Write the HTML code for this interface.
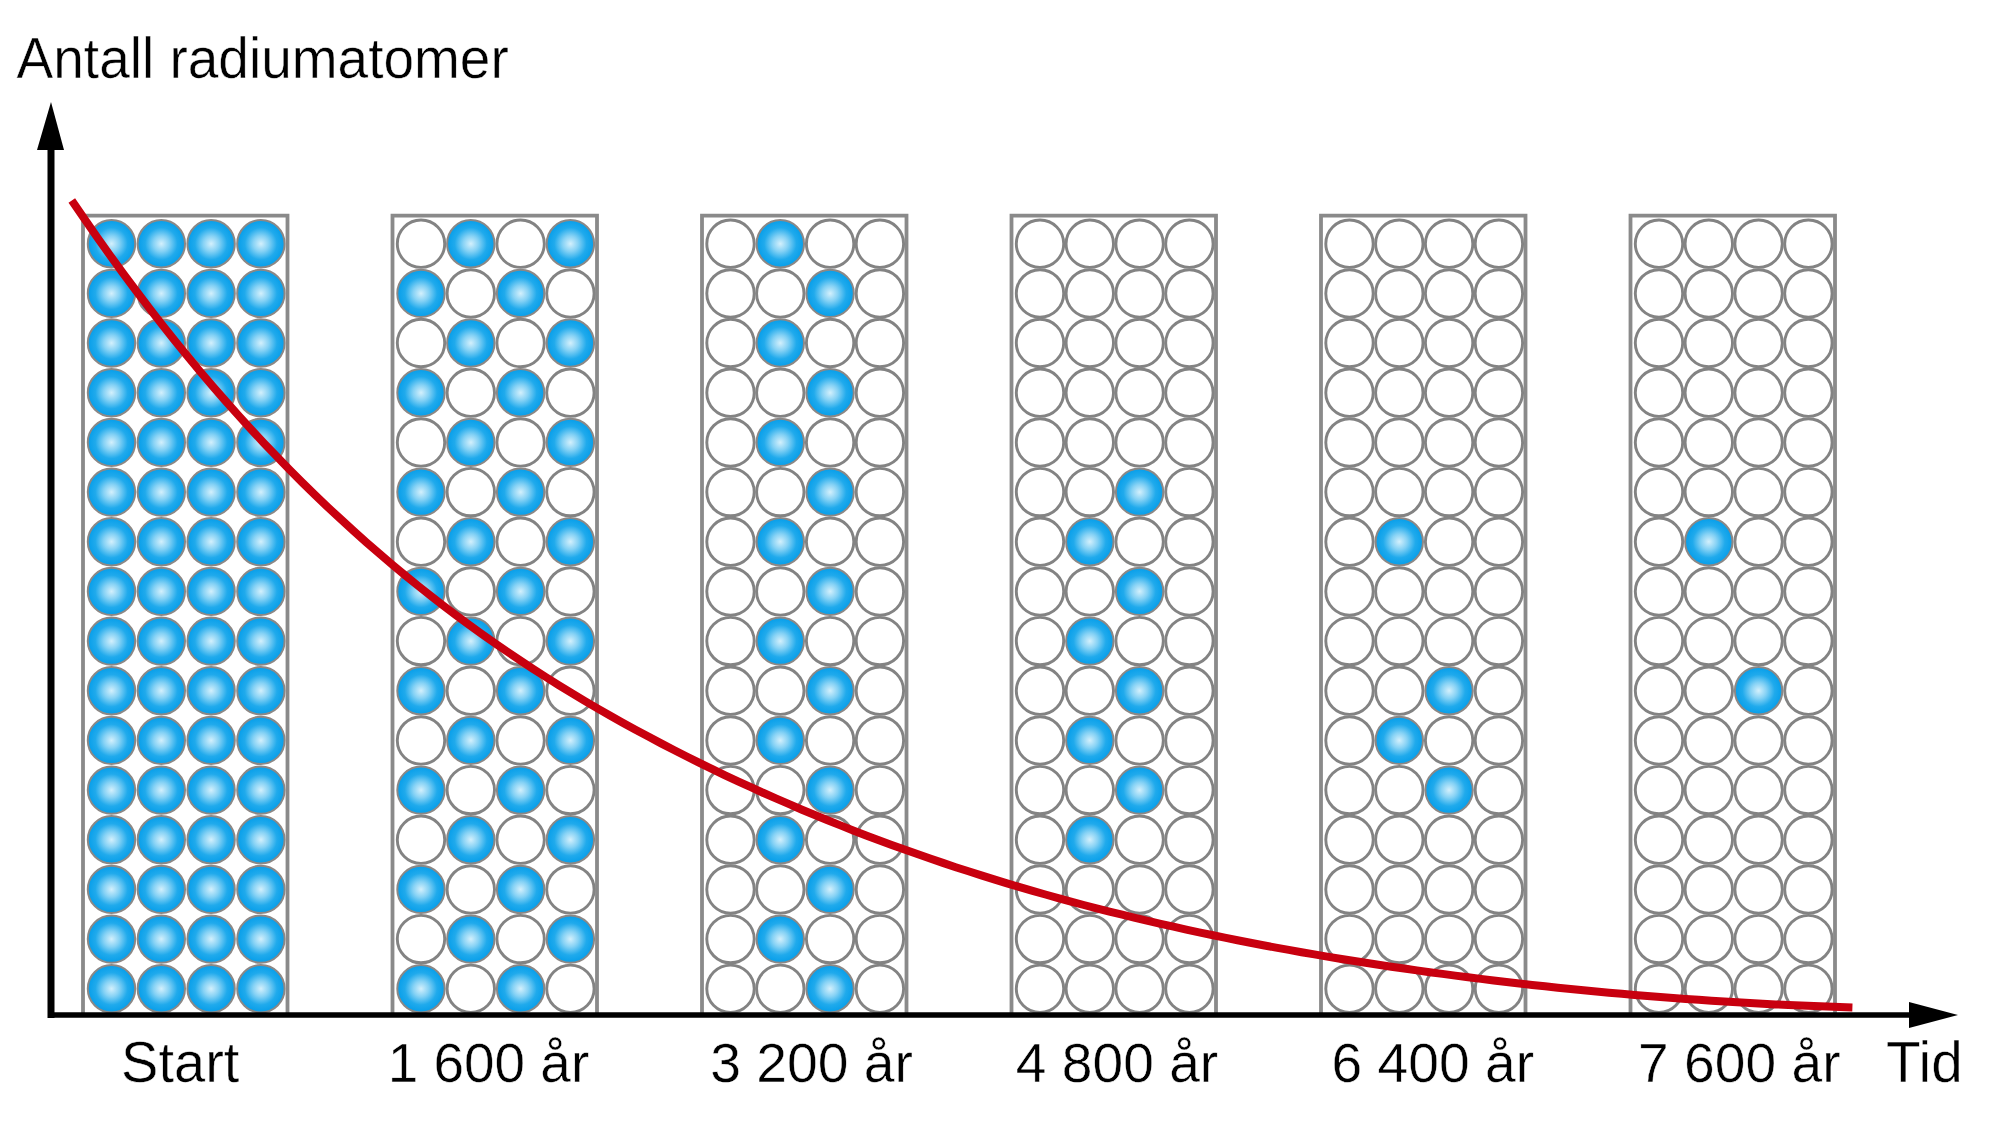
<!DOCTYPE html>
<html><head><meta charset="utf-8"><style>
html,body{margin:0;padding:0;background:#fff;overflow:hidden;}
svg{display:block;}
text{font-family:"Liberation Sans",sans-serif;fill:#000;stroke:#fff;stroke-width:0.45px;}
.w{fill:#fff;stroke:#838383;stroke-width:2.9;}
.b{fill:url(#g);stroke:#8c8886;stroke-width:2.0;}
.bx path{fill:none;stroke:#8a8a8a;stroke-width:3.8;}
</style></head><body>
<svg width="2000" height="1135" viewBox="0 0 2000 1135">
<defs><radialGradient id="g" cx="0.5" cy="0.5" r="0.5"><stop offset="0" stop-color="#d4f0fc"/><stop offset="0.33" stop-color="#86d2f5"/><stop offset="0.68" stop-color="#20aaec"/><stop offset="1" stop-color="#069eea"/></radialGradient></defs>
<rect width="2000" height="1135" fill="#fff"/>
<text transform="translate(16.6 77.6) scale(1.0 1.03)" font-size="55">Antall radiumatomer</text>
<g class="bx"><path d="M83.0 1015 V215.7 H287.5 V1015"/><path d="M392.5 1015 V215.7 H597.0 V1015"/><path d="M702.0 1015 V215.7 H906.5 V1015"/><path d="M1011.5 1015 V215.7 H1216.0 V1015"/><path d="M1321.0 1015 V215.7 H1525.5 V1015"/><path d="M1630.5 1015 V215.7 H1835.0 V1015"/></g>
<circle cx="111.5" cy="243.7" r="23.7" class="b"/><circle cx="161.3" cy="243.7" r="23.7" class="b"/><circle cx="211.1" cy="243.7" r="23.7" class="b"/><circle cx="260.9" cy="243.7" r="23.7" class="b"/><circle cx="111.5" cy="293.4" r="23.7" class="b"/><circle cx="161.3" cy="293.4" r="23.7" class="b"/><circle cx="211.1" cy="293.4" r="23.7" class="b"/><circle cx="260.9" cy="293.4" r="23.7" class="b"/><circle cx="111.5" cy="343.0" r="23.7" class="b"/><circle cx="161.3" cy="343.0" r="23.7" class="b"/><circle cx="211.1" cy="343.0" r="23.7" class="b"/><circle cx="260.9" cy="343.0" r="23.7" class="b"/><circle cx="111.5" cy="392.7" r="23.7" class="b"/><circle cx="161.3" cy="392.7" r="23.7" class="b"/><circle cx="211.1" cy="392.7" r="23.7" class="b"/><circle cx="260.9" cy="392.7" r="23.7" class="b"/><circle cx="111.5" cy="442.4" r="23.7" class="b"/><circle cx="161.3" cy="442.4" r="23.7" class="b"/><circle cx="211.1" cy="442.4" r="23.7" class="b"/><circle cx="260.9" cy="442.4" r="23.7" class="b"/><circle cx="111.5" cy="492.1" r="23.7" class="b"/><circle cx="161.3" cy="492.1" r="23.7" class="b"/><circle cx="211.1" cy="492.1" r="23.7" class="b"/><circle cx="260.9" cy="492.1" r="23.7" class="b"/><circle cx="111.5" cy="541.7" r="23.7" class="b"/><circle cx="161.3" cy="541.7" r="23.7" class="b"/><circle cx="211.1" cy="541.7" r="23.7" class="b"/><circle cx="260.9" cy="541.7" r="23.7" class="b"/><circle cx="111.5" cy="591.4" r="23.7" class="b"/><circle cx="161.3" cy="591.4" r="23.7" class="b"/><circle cx="211.1" cy="591.4" r="23.7" class="b"/><circle cx="260.9" cy="591.4" r="23.7" class="b"/><circle cx="111.5" cy="641.1" r="23.7" class="b"/><circle cx="161.3" cy="641.1" r="23.7" class="b"/><circle cx="211.1" cy="641.1" r="23.7" class="b"/><circle cx="260.9" cy="641.1" r="23.7" class="b"/><circle cx="111.5" cy="690.7" r="23.7" class="b"/><circle cx="161.3" cy="690.7" r="23.7" class="b"/><circle cx="211.1" cy="690.7" r="23.7" class="b"/><circle cx="260.9" cy="690.7" r="23.7" class="b"/><circle cx="111.5" cy="740.4" r="23.7" class="b"/><circle cx="161.3" cy="740.4" r="23.7" class="b"/><circle cx="211.1" cy="740.4" r="23.7" class="b"/><circle cx="260.9" cy="740.4" r="23.7" class="b"/><circle cx="111.5" cy="790.1" r="23.7" class="b"/><circle cx="161.3" cy="790.1" r="23.7" class="b"/><circle cx="211.1" cy="790.1" r="23.7" class="b"/><circle cx="260.9" cy="790.1" r="23.7" class="b"/><circle cx="111.5" cy="839.7" r="23.7" class="b"/><circle cx="161.3" cy="839.7" r="23.7" class="b"/><circle cx="211.1" cy="839.7" r="23.7" class="b"/><circle cx="260.9" cy="839.7" r="23.7" class="b"/><circle cx="111.5" cy="889.4" r="23.7" class="b"/><circle cx="161.3" cy="889.4" r="23.7" class="b"/><circle cx="211.1" cy="889.4" r="23.7" class="b"/><circle cx="260.9" cy="889.4" r="23.7" class="b"/><circle cx="111.5" cy="939.1" r="23.7" class="b"/><circle cx="161.3" cy="939.1" r="23.7" class="b"/><circle cx="211.1" cy="939.1" r="23.7" class="b"/><circle cx="260.9" cy="939.1" r="23.7" class="b"/><circle cx="111.5" cy="988.8" r="23.7" class="b"/><circle cx="161.3" cy="988.8" r="23.7" class="b"/><circle cx="211.1" cy="988.8" r="23.7" class="b"/><circle cx="260.9" cy="988.8" r="23.7" class="b"/><circle cx="421.0" cy="243.7" r="23.7" class="w"/><circle cx="470.8" cy="243.7" r="23.7" class="b"/><circle cx="520.6" cy="243.7" r="23.7" class="w"/><circle cx="570.4" cy="243.7" r="23.7" class="b"/><circle cx="421.0" cy="293.4" r="23.7" class="b"/><circle cx="470.8" cy="293.4" r="23.7" class="w"/><circle cx="520.6" cy="293.4" r="23.7" class="b"/><circle cx="570.4" cy="293.4" r="23.7" class="w"/><circle cx="421.0" cy="343.0" r="23.7" class="w"/><circle cx="470.8" cy="343.0" r="23.7" class="b"/><circle cx="520.6" cy="343.0" r="23.7" class="w"/><circle cx="570.4" cy="343.0" r="23.7" class="b"/><circle cx="421.0" cy="392.7" r="23.7" class="b"/><circle cx="470.8" cy="392.7" r="23.7" class="w"/><circle cx="520.6" cy="392.7" r="23.7" class="b"/><circle cx="570.4" cy="392.7" r="23.7" class="w"/><circle cx="421.0" cy="442.4" r="23.7" class="w"/><circle cx="470.8" cy="442.4" r="23.7" class="b"/><circle cx="520.6" cy="442.4" r="23.7" class="w"/><circle cx="570.4" cy="442.4" r="23.7" class="b"/><circle cx="421.0" cy="492.1" r="23.7" class="b"/><circle cx="470.8" cy="492.1" r="23.7" class="w"/><circle cx="520.6" cy="492.1" r="23.7" class="b"/><circle cx="570.4" cy="492.1" r="23.7" class="w"/><circle cx="421.0" cy="541.7" r="23.7" class="w"/><circle cx="470.8" cy="541.7" r="23.7" class="b"/><circle cx="520.6" cy="541.7" r="23.7" class="w"/><circle cx="570.4" cy="541.7" r="23.7" class="b"/><circle cx="421.0" cy="591.4" r="23.7" class="b"/><circle cx="470.8" cy="591.4" r="23.7" class="w"/><circle cx="520.6" cy="591.4" r="23.7" class="b"/><circle cx="570.4" cy="591.4" r="23.7" class="w"/><circle cx="421.0" cy="641.1" r="23.7" class="w"/><circle cx="470.8" cy="641.1" r="23.7" class="b"/><circle cx="520.6" cy="641.1" r="23.7" class="w"/><circle cx="570.4" cy="641.1" r="23.7" class="b"/><circle cx="421.0" cy="690.7" r="23.7" class="b"/><circle cx="470.8" cy="690.7" r="23.7" class="w"/><circle cx="520.6" cy="690.7" r="23.7" class="b"/><circle cx="570.4" cy="690.7" r="23.7" class="w"/><circle cx="421.0" cy="740.4" r="23.7" class="w"/><circle cx="470.8" cy="740.4" r="23.7" class="b"/><circle cx="520.6" cy="740.4" r="23.7" class="w"/><circle cx="570.4" cy="740.4" r="23.7" class="b"/><circle cx="421.0" cy="790.1" r="23.7" class="b"/><circle cx="470.8" cy="790.1" r="23.7" class="w"/><circle cx="520.6" cy="790.1" r="23.7" class="b"/><circle cx="570.4" cy="790.1" r="23.7" class="w"/><circle cx="421.0" cy="839.7" r="23.7" class="w"/><circle cx="470.8" cy="839.7" r="23.7" class="b"/><circle cx="520.6" cy="839.7" r="23.7" class="w"/><circle cx="570.4" cy="839.7" r="23.7" class="b"/><circle cx="421.0" cy="889.4" r="23.7" class="b"/><circle cx="470.8" cy="889.4" r="23.7" class="w"/><circle cx="520.6" cy="889.4" r="23.7" class="b"/><circle cx="570.4" cy="889.4" r="23.7" class="w"/><circle cx="421.0" cy="939.1" r="23.7" class="w"/><circle cx="470.8" cy="939.1" r="23.7" class="b"/><circle cx="520.6" cy="939.1" r="23.7" class="w"/><circle cx="570.4" cy="939.1" r="23.7" class="b"/><circle cx="421.0" cy="988.8" r="23.7" class="b"/><circle cx="470.8" cy="988.8" r="23.7" class="w"/><circle cx="520.6" cy="988.8" r="23.7" class="b"/><circle cx="570.4" cy="988.8" r="23.7" class="w"/><circle cx="730.5" cy="243.7" r="23.7" class="w"/><circle cx="780.3" cy="243.7" r="23.7" class="b"/><circle cx="830.1" cy="243.7" r="23.7" class="w"/><circle cx="879.9" cy="243.7" r="23.7" class="w"/><circle cx="730.5" cy="293.4" r="23.7" class="w"/><circle cx="780.3" cy="293.4" r="23.7" class="w"/><circle cx="830.1" cy="293.4" r="23.7" class="b"/><circle cx="879.9" cy="293.4" r="23.7" class="w"/><circle cx="730.5" cy="343.0" r="23.7" class="w"/><circle cx="780.3" cy="343.0" r="23.7" class="b"/><circle cx="830.1" cy="343.0" r="23.7" class="w"/><circle cx="879.9" cy="343.0" r="23.7" class="w"/><circle cx="730.5" cy="392.7" r="23.7" class="w"/><circle cx="780.3" cy="392.7" r="23.7" class="w"/><circle cx="830.1" cy="392.7" r="23.7" class="b"/><circle cx="879.9" cy="392.7" r="23.7" class="w"/><circle cx="730.5" cy="442.4" r="23.7" class="w"/><circle cx="780.3" cy="442.4" r="23.7" class="b"/><circle cx="830.1" cy="442.4" r="23.7" class="w"/><circle cx="879.9" cy="442.4" r="23.7" class="w"/><circle cx="730.5" cy="492.1" r="23.7" class="w"/><circle cx="780.3" cy="492.1" r="23.7" class="w"/><circle cx="830.1" cy="492.1" r="23.7" class="b"/><circle cx="879.9" cy="492.1" r="23.7" class="w"/><circle cx="730.5" cy="541.7" r="23.7" class="w"/><circle cx="780.3" cy="541.7" r="23.7" class="b"/><circle cx="830.1" cy="541.7" r="23.7" class="w"/><circle cx="879.9" cy="541.7" r="23.7" class="w"/><circle cx="730.5" cy="591.4" r="23.7" class="w"/><circle cx="780.3" cy="591.4" r="23.7" class="w"/><circle cx="830.1" cy="591.4" r="23.7" class="b"/><circle cx="879.9" cy="591.4" r="23.7" class="w"/><circle cx="730.5" cy="641.1" r="23.7" class="w"/><circle cx="780.3" cy="641.1" r="23.7" class="b"/><circle cx="830.1" cy="641.1" r="23.7" class="w"/><circle cx="879.9" cy="641.1" r="23.7" class="w"/><circle cx="730.5" cy="690.7" r="23.7" class="w"/><circle cx="780.3" cy="690.7" r="23.7" class="w"/><circle cx="830.1" cy="690.7" r="23.7" class="b"/><circle cx="879.9" cy="690.7" r="23.7" class="w"/><circle cx="730.5" cy="740.4" r="23.7" class="w"/><circle cx="780.3" cy="740.4" r="23.7" class="b"/><circle cx="830.1" cy="740.4" r="23.7" class="w"/><circle cx="879.9" cy="740.4" r="23.7" class="w"/><circle cx="730.5" cy="790.1" r="23.7" class="w"/><circle cx="780.3" cy="790.1" r="23.7" class="w"/><circle cx="830.1" cy="790.1" r="23.7" class="b"/><circle cx="879.9" cy="790.1" r="23.7" class="w"/><circle cx="730.5" cy="839.7" r="23.7" class="w"/><circle cx="780.3" cy="839.7" r="23.7" class="b"/><circle cx="830.1" cy="839.7" r="23.7" class="w"/><circle cx="879.9" cy="839.7" r="23.7" class="w"/><circle cx="730.5" cy="889.4" r="23.7" class="w"/><circle cx="780.3" cy="889.4" r="23.7" class="w"/><circle cx="830.1" cy="889.4" r="23.7" class="b"/><circle cx="879.9" cy="889.4" r="23.7" class="w"/><circle cx="730.5" cy="939.1" r="23.7" class="w"/><circle cx="780.3" cy="939.1" r="23.7" class="b"/><circle cx="830.1" cy="939.1" r="23.7" class="w"/><circle cx="879.9" cy="939.1" r="23.7" class="w"/><circle cx="730.5" cy="988.8" r="23.7" class="w"/><circle cx="780.3" cy="988.8" r="23.7" class="w"/><circle cx="830.1" cy="988.8" r="23.7" class="b"/><circle cx="879.9" cy="988.8" r="23.7" class="w"/><circle cx="1040.0" cy="243.7" r="23.7" class="w"/><circle cx="1089.8" cy="243.7" r="23.7" class="w"/><circle cx="1139.6" cy="243.7" r="23.7" class="w"/><circle cx="1189.4" cy="243.7" r="23.7" class="w"/><circle cx="1040.0" cy="293.4" r="23.7" class="w"/><circle cx="1089.8" cy="293.4" r="23.7" class="w"/><circle cx="1139.6" cy="293.4" r="23.7" class="w"/><circle cx="1189.4" cy="293.4" r="23.7" class="w"/><circle cx="1040.0" cy="343.0" r="23.7" class="w"/><circle cx="1089.8" cy="343.0" r="23.7" class="w"/><circle cx="1139.6" cy="343.0" r="23.7" class="w"/><circle cx="1189.4" cy="343.0" r="23.7" class="w"/><circle cx="1040.0" cy="392.7" r="23.7" class="w"/><circle cx="1089.8" cy="392.7" r="23.7" class="w"/><circle cx="1139.6" cy="392.7" r="23.7" class="w"/><circle cx="1189.4" cy="392.7" r="23.7" class="w"/><circle cx="1040.0" cy="442.4" r="23.7" class="w"/><circle cx="1089.8" cy="442.4" r="23.7" class="w"/><circle cx="1139.6" cy="442.4" r="23.7" class="w"/><circle cx="1189.4" cy="442.4" r="23.7" class="w"/><circle cx="1040.0" cy="492.1" r="23.7" class="w"/><circle cx="1089.8" cy="492.1" r="23.7" class="w"/><circle cx="1139.6" cy="492.1" r="23.7" class="b"/><circle cx="1189.4" cy="492.1" r="23.7" class="w"/><circle cx="1040.0" cy="541.7" r="23.7" class="w"/><circle cx="1089.8" cy="541.7" r="23.7" class="b"/><circle cx="1139.6" cy="541.7" r="23.7" class="w"/><circle cx="1189.4" cy="541.7" r="23.7" class="w"/><circle cx="1040.0" cy="591.4" r="23.7" class="w"/><circle cx="1089.8" cy="591.4" r="23.7" class="w"/><circle cx="1139.6" cy="591.4" r="23.7" class="b"/><circle cx="1189.4" cy="591.4" r="23.7" class="w"/><circle cx="1040.0" cy="641.1" r="23.7" class="w"/><circle cx="1089.8" cy="641.1" r="23.7" class="b"/><circle cx="1139.6" cy="641.1" r="23.7" class="w"/><circle cx="1189.4" cy="641.1" r="23.7" class="w"/><circle cx="1040.0" cy="690.7" r="23.7" class="w"/><circle cx="1089.8" cy="690.7" r="23.7" class="w"/><circle cx="1139.6" cy="690.7" r="23.7" class="b"/><circle cx="1189.4" cy="690.7" r="23.7" class="w"/><circle cx="1040.0" cy="740.4" r="23.7" class="w"/><circle cx="1089.8" cy="740.4" r="23.7" class="b"/><circle cx="1139.6" cy="740.4" r="23.7" class="w"/><circle cx="1189.4" cy="740.4" r="23.7" class="w"/><circle cx="1040.0" cy="790.1" r="23.7" class="w"/><circle cx="1089.8" cy="790.1" r="23.7" class="w"/><circle cx="1139.6" cy="790.1" r="23.7" class="b"/><circle cx="1189.4" cy="790.1" r="23.7" class="w"/><circle cx="1040.0" cy="839.7" r="23.7" class="w"/><circle cx="1089.8" cy="839.7" r="23.7" class="b"/><circle cx="1139.6" cy="839.7" r="23.7" class="w"/><circle cx="1189.4" cy="839.7" r="23.7" class="w"/><circle cx="1040.0" cy="889.4" r="23.7" class="w"/><circle cx="1089.8" cy="889.4" r="23.7" class="w"/><circle cx="1139.6" cy="889.4" r="23.7" class="w"/><circle cx="1189.4" cy="889.4" r="23.7" class="w"/><circle cx="1040.0" cy="939.1" r="23.7" class="w"/><circle cx="1089.8" cy="939.1" r="23.7" class="w"/><circle cx="1139.6" cy="939.1" r="23.7" class="w"/><circle cx="1189.4" cy="939.1" r="23.7" class="w"/><circle cx="1040.0" cy="988.8" r="23.7" class="w"/><circle cx="1089.8" cy="988.8" r="23.7" class="w"/><circle cx="1139.6" cy="988.8" r="23.7" class="w"/><circle cx="1189.4" cy="988.8" r="23.7" class="w"/><circle cx="1349.5" cy="243.7" r="23.7" class="w"/><circle cx="1399.3" cy="243.7" r="23.7" class="w"/><circle cx="1449.1" cy="243.7" r="23.7" class="w"/><circle cx="1498.9" cy="243.7" r="23.7" class="w"/><circle cx="1349.5" cy="293.4" r="23.7" class="w"/><circle cx="1399.3" cy="293.4" r="23.7" class="w"/><circle cx="1449.1" cy="293.4" r="23.7" class="w"/><circle cx="1498.9" cy="293.4" r="23.7" class="w"/><circle cx="1349.5" cy="343.0" r="23.7" class="w"/><circle cx="1399.3" cy="343.0" r="23.7" class="w"/><circle cx="1449.1" cy="343.0" r="23.7" class="w"/><circle cx="1498.9" cy="343.0" r="23.7" class="w"/><circle cx="1349.5" cy="392.7" r="23.7" class="w"/><circle cx="1399.3" cy="392.7" r="23.7" class="w"/><circle cx="1449.1" cy="392.7" r="23.7" class="w"/><circle cx="1498.9" cy="392.7" r="23.7" class="w"/><circle cx="1349.5" cy="442.4" r="23.7" class="w"/><circle cx="1399.3" cy="442.4" r="23.7" class="w"/><circle cx="1449.1" cy="442.4" r="23.7" class="w"/><circle cx="1498.9" cy="442.4" r="23.7" class="w"/><circle cx="1349.5" cy="492.1" r="23.7" class="w"/><circle cx="1399.3" cy="492.1" r="23.7" class="w"/><circle cx="1449.1" cy="492.1" r="23.7" class="w"/><circle cx="1498.9" cy="492.1" r="23.7" class="w"/><circle cx="1349.5" cy="541.7" r="23.7" class="w"/><circle cx="1399.3" cy="541.7" r="23.7" class="b"/><circle cx="1449.1" cy="541.7" r="23.7" class="w"/><circle cx="1498.9" cy="541.7" r="23.7" class="w"/><circle cx="1349.5" cy="591.4" r="23.7" class="w"/><circle cx="1399.3" cy="591.4" r="23.7" class="w"/><circle cx="1449.1" cy="591.4" r="23.7" class="w"/><circle cx="1498.9" cy="591.4" r="23.7" class="w"/><circle cx="1349.5" cy="641.1" r="23.7" class="w"/><circle cx="1399.3" cy="641.1" r="23.7" class="w"/><circle cx="1449.1" cy="641.1" r="23.7" class="w"/><circle cx="1498.9" cy="641.1" r="23.7" class="w"/><circle cx="1349.5" cy="690.7" r="23.7" class="w"/><circle cx="1399.3" cy="690.7" r="23.7" class="w"/><circle cx="1449.1" cy="690.7" r="23.7" class="b"/><circle cx="1498.9" cy="690.7" r="23.7" class="w"/><circle cx="1349.5" cy="740.4" r="23.7" class="w"/><circle cx="1399.3" cy="740.4" r="23.7" class="b"/><circle cx="1449.1" cy="740.4" r="23.7" class="w"/><circle cx="1498.9" cy="740.4" r="23.7" class="w"/><circle cx="1349.5" cy="790.1" r="23.7" class="w"/><circle cx="1399.3" cy="790.1" r="23.7" class="w"/><circle cx="1449.1" cy="790.1" r="23.7" class="b"/><circle cx="1498.9" cy="790.1" r="23.7" class="w"/><circle cx="1349.5" cy="839.7" r="23.7" class="w"/><circle cx="1399.3" cy="839.7" r="23.7" class="w"/><circle cx="1449.1" cy="839.7" r="23.7" class="w"/><circle cx="1498.9" cy="839.7" r="23.7" class="w"/><circle cx="1349.5" cy="889.4" r="23.7" class="w"/><circle cx="1399.3" cy="889.4" r="23.7" class="w"/><circle cx="1449.1" cy="889.4" r="23.7" class="w"/><circle cx="1498.9" cy="889.4" r="23.7" class="w"/><circle cx="1349.5" cy="939.1" r="23.7" class="w"/><circle cx="1399.3" cy="939.1" r="23.7" class="w"/><circle cx="1449.1" cy="939.1" r="23.7" class="w"/><circle cx="1498.9" cy="939.1" r="23.7" class="w"/><circle cx="1349.5" cy="988.8" r="23.7" class="w"/><circle cx="1399.3" cy="988.8" r="23.7" class="w"/><circle cx="1449.1" cy="988.8" r="23.7" class="w"/><circle cx="1498.9" cy="988.8" r="23.7" class="w"/><circle cx="1659.0" cy="243.7" r="23.7" class="w"/><circle cx="1708.8" cy="243.7" r="23.7" class="w"/><circle cx="1758.6" cy="243.7" r="23.7" class="w"/><circle cx="1808.4" cy="243.7" r="23.7" class="w"/><circle cx="1659.0" cy="293.4" r="23.7" class="w"/><circle cx="1708.8" cy="293.4" r="23.7" class="w"/><circle cx="1758.6" cy="293.4" r="23.7" class="w"/><circle cx="1808.4" cy="293.4" r="23.7" class="w"/><circle cx="1659.0" cy="343.0" r="23.7" class="w"/><circle cx="1708.8" cy="343.0" r="23.7" class="w"/><circle cx="1758.6" cy="343.0" r="23.7" class="w"/><circle cx="1808.4" cy="343.0" r="23.7" class="w"/><circle cx="1659.0" cy="392.7" r="23.7" class="w"/><circle cx="1708.8" cy="392.7" r="23.7" class="w"/><circle cx="1758.6" cy="392.7" r="23.7" class="w"/><circle cx="1808.4" cy="392.7" r="23.7" class="w"/><circle cx="1659.0" cy="442.4" r="23.7" class="w"/><circle cx="1708.8" cy="442.4" r="23.7" class="w"/><circle cx="1758.6" cy="442.4" r="23.7" class="w"/><circle cx="1808.4" cy="442.4" r="23.7" class="w"/><circle cx="1659.0" cy="492.1" r="23.7" class="w"/><circle cx="1708.8" cy="492.1" r="23.7" class="w"/><circle cx="1758.6" cy="492.1" r="23.7" class="w"/><circle cx="1808.4" cy="492.1" r="23.7" class="w"/><circle cx="1659.0" cy="541.7" r="23.7" class="w"/><circle cx="1708.8" cy="541.7" r="23.7" class="b"/><circle cx="1758.6" cy="541.7" r="23.7" class="w"/><circle cx="1808.4" cy="541.7" r="23.7" class="w"/><circle cx="1659.0" cy="591.4" r="23.7" class="w"/><circle cx="1708.8" cy="591.4" r="23.7" class="w"/><circle cx="1758.6" cy="591.4" r="23.7" class="w"/><circle cx="1808.4" cy="591.4" r="23.7" class="w"/><circle cx="1659.0" cy="641.1" r="23.7" class="w"/><circle cx="1708.8" cy="641.1" r="23.7" class="w"/><circle cx="1758.6" cy="641.1" r="23.7" class="w"/><circle cx="1808.4" cy="641.1" r="23.7" class="w"/><circle cx="1659.0" cy="690.7" r="23.7" class="w"/><circle cx="1708.8" cy="690.7" r="23.7" class="w"/><circle cx="1758.6" cy="690.7" r="23.7" class="b"/><circle cx="1808.4" cy="690.7" r="23.7" class="w"/><circle cx="1659.0" cy="740.4" r="23.7" class="w"/><circle cx="1708.8" cy="740.4" r="23.7" class="w"/><circle cx="1758.6" cy="740.4" r="23.7" class="w"/><circle cx="1808.4" cy="740.4" r="23.7" class="w"/><circle cx="1659.0" cy="790.1" r="23.7" class="w"/><circle cx="1708.8" cy="790.1" r="23.7" class="w"/><circle cx="1758.6" cy="790.1" r="23.7" class="w"/><circle cx="1808.4" cy="790.1" r="23.7" class="w"/><circle cx="1659.0" cy="839.7" r="23.7" class="w"/><circle cx="1708.8" cy="839.7" r="23.7" class="w"/><circle cx="1758.6" cy="839.7" r="23.7" class="w"/><circle cx="1808.4" cy="839.7" r="23.7" class="w"/><circle cx="1659.0" cy="889.4" r="23.7" class="w"/><circle cx="1708.8" cy="889.4" r="23.7" class="w"/><circle cx="1758.6" cy="889.4" r="23.7" class="w"/><circle cx="1808.4" cy="889.4" r="23.7" class="w"/><circle cx="1659.0" cy="939.1" r="23.7" class="w"/><circle cx="1708.8" cy="939.1" r="23.7" class="w"/><circle cx="1758.6" cy="939.1" r="23.7" class="w"/><circle cx="1808.4" cy="939.1" r="23.7" class="w"/><circle cx="1659.0" cy="988.8" r="23.7" class="w"/><circle cx="1708.8" cy="988.8" r="23.7" class="w"/><circle cx="1758.6" cy="988.8" r="23.7" class="w"/><circle cx="1808.4" cy="988.8" r="23.7" class="w"/>
<path d="M51 1018 V148" stroke="#000" stroke-width="7" fill="none"/>
<path d="M37 150 L51 102 L64 150 Z" fill="#000"/>
<path d="M48 1015 H1912" stroke="#000" stroke-width="5.5" fill="none"/>
<path d="M1909 1002 L1958 1015 L1909 1028 Z" fill="#000"/>
<path d="M71.8 200.4 L84.7 219.2 L97.5 237.7 L110.3 255.7 L123.1 273.3 L135.9 290.5 L148.7 307.4 L161.5 323.9 L174.3 340.0 L187.1 355.8 L199.9 371.2 L212.8 386.3 L225.6 401.0 L238.4 415.4 L251.2 429.5 L264.0 443.2 L276.8 456.6 L289.6 469.8 L302.4 482.6 L315.2 495.1 L328.0 507.4 L340.9 519.3 L353.7 531.0 L366.5 542.4 L379.3 553.6 L392.1 564.5 L404.9 575.1 L417.7 585.5 L430.5 595.6 L443.3 605.6 L456.1 615.2 L469.0 624.7 L481.8 633.9 L494.6 643.0 L507.4 651.8 L520.2 660.4 L533.0 668.8 L545.8 677.0 L558.6 685.1 L571.4 692.9 L584.2 700.6 L597.0 708.1 L609.9 715.5 L622.7 722.7 L635.5 729.7 L648.3 736.6 L661.1 743.4 L673.9 750.0 L686.7 756.5 L699.5 762.9 L712.3 769.1 L725.1 775.3 L738.0 781.3 L750.8 787.2 L763.6 793.0 L776.4 798.6 L789.2 804.2 L802.0 809.7 L814.8 815.0 L827.6 820.3 L840.4 825.4 L853.2 830.4 L866.1 835.4 L878.9 840.2 L891.7 844.9 L904.5 849.6 L917.3 854.1 L930.1 858.6 L942.9 862.9 L955.7 867.2 L968.5 871.3 L981.3 875.4 L994.1 879.4 L1007.0 883.3 L1019.8 887.1 L1032.6 890.9 L1045.4 894.5 L1058.2 898.1 L1071.0 901.6 L1083.8 905.0 L1096.6 908.3 L1109.4 911.6 L1122.2 914.7 L1135.1 917.8 L1147.9 920.9 L1160.7 923.8 L1173.5 926.7 L1186.3 929.6 L1199.1 932.3 L1211.9 935.0 L1224.7 937.7 L1237.5 940.2 L1250.3 942.7 L1263.2 945.2 L1276.0 947.6 L1288.8 949.9 L1301.6 952.2 L1314.4 954.4 L1327.2 956.6 L1340.0 958.7 L1352.8 960.7 L1365.6 962.8 L1378.4 964.7 L1391.3 966.7 L1404.1 968.5 L1416.9 970.4 L1429.7 972.2 L1442.5 973.9 L1455.3 975.6 L1468.1 977.3 L1480.9 978.9 L1493.7 980.5 L1506.5 982.0 L1519.3 983.5 L1532.2 984.9 L1545.0 986.3 L1557.8 987.7 L1570.6 989.0 L1583.4 990.3 L1596.2 991.5 L1609.0 992.7 L1621.8 993.8 L1634.6 995.0 L1647.4 996.0 L1660.3 997.0 L1673.1 998.0 L1685.9 999.0 L1698.7 999.8 L1711.5 1000.7 L1724.3 1001.5 L1737.1 1002.3 L1749.9 1003.0 L1762.7 1003.7 L1775.5 1004.4 L1788.4 1005.0 L1801.2 1005.5 L1814.0 1006.0 L1826.8 1006.5 L1839.6 1007.0 L1852.4 1007.4" stroke="#c8000f" stroke-width="8.0" fill="none" stroke-linecap="butt" stroke-linejoin="round"/>
<text transform="translate(121.1 1081.5) scale(1.0 1.04)" font-size="56">Start</text><text transform="translate(387.8 1081.5) scale(0.98 1.0)" font-size="56">1 600 år</text><text transform="translate(710.2 1081.5) scale(0.987 1.0)" font-size="56">3 200 år</text><text transform="translate(1015.8 1081.5) scale(0.985 1.0)" font-size="56">4 800 år</text><text transform="translate(1331.6 1081.5) scale(0.985 1.0)" font-size="56">6 400 år</text><text transform="translate(1638.1 1081.5) scale(0.985 1.0)" font-size="56">7 600 år</text><text transform="translate(1886.1 1081.5) scale(1.012 1.04)" font-size="56">Tid</text>
</svg>
</body></html>
